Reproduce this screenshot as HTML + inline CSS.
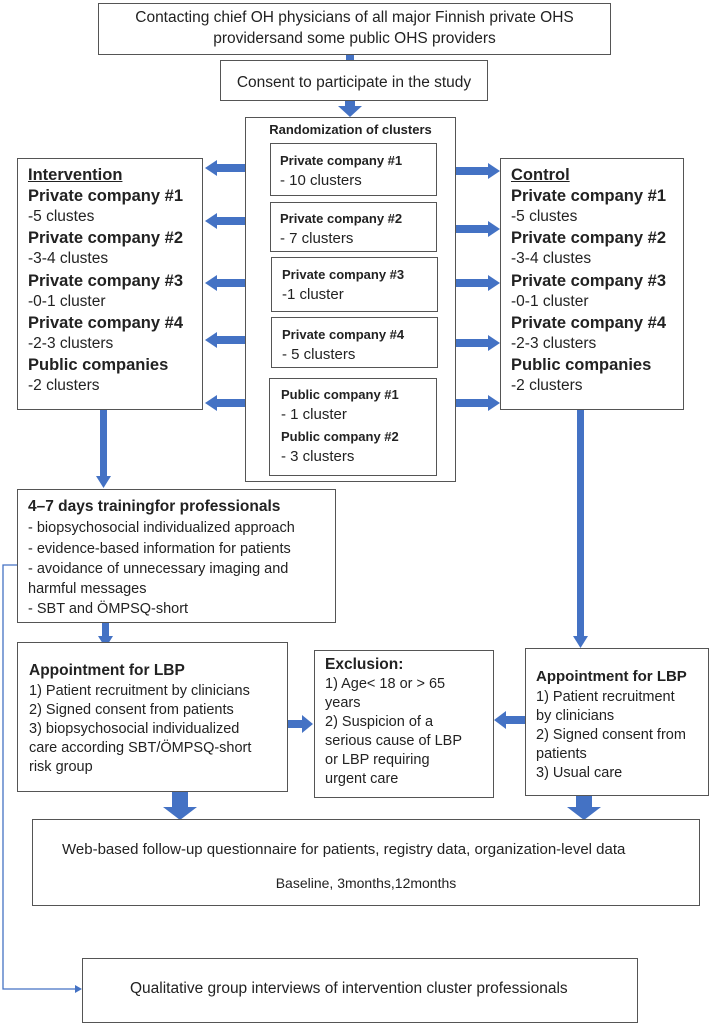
<!DOCTYPE html>
<html><head><meta charset="utf-8">
<style>
body{margin:0;background:#fff;}
#c{position:relative;width:709px;height:1023px;overflow:hidden;font-family:"Liberation Sans",Arial,sans-serif;color:#222;}
.b{position:absolute;border:1.5px solid #555;box-sizing:border-box;background:#fff;}
.t{position:absolute;white-space:nowrap;line-height:20px;}
.bd{font-weight:bold;}
svg{position:absolute;left:0;top:0;}
</style></head><body><div id="c">
<svg width="709" height="1023">
<g fill="#4472c4">
<rect x="346" y="54" width="8" height="7"/>
<polygon points="345,100 355,100 355,106 362,106 350,117 338,106 345,106"/>
<!-- left arrows -->
<polygon points="246,164 217,164 217,160 205,168 217,176 217,172 246,172"/>
<polygon points="246,217 217,217 217,213 205,221 217,229 217,225 246,225"/>
<polygon points="246,279 217,279 217,275 205,283 217,291 217,287 246,287"/>
<polygon points="246,336 217,336 217,332 205,340 217,348 217,344 246,344"/>
<polygon points="246,399 217,399 217,395 205,403 217,411 217,407 246,407"/>
<!-- right arrows -->
<polygon points="456,167 488,167 488,163 500,171 488,179 488,175 456,175"/>
<polygon points="456,225 488,225 488,221 500,229 488,237 488,233 456,233"/>
<polygon points="456,279 488,279 488,275 500,283 488,291 488,287 456,287"/>
<polygon points="456,339 488,339 488,335 500,343 488,351 488,347 456,347"/>
<polygon points="456,399 488,399 488,395 500,403 488,411 488,407 456,407"/>
<!-- vertical -->
<polygon points="100,410 107,410 107,476 111,476 103.5,488 96,476 100,476"/>
<polygon points="577,410 584,410 584,636 588,636 580.5,648 573,636 577,636"/>
<polygon points="102,623 109,623 109,636 113,636 105.5,648 98,636 102,636"/>
<!-- to exclusion -->
<polygon points="288,720 302,720 302,715 313,724 302,733 302,728 288,728"/>
<polygon points="525,716 506,716 506,711 494,720 506,729 506,724 525,724"/>
<!-- to web -->
<polygon points="172,791 188,791 188,807 197,807 180,820 163,807 172,807"/>
<polygon points="576,796 592,796 592,807 601,807 584,820 567,807 576,807"/>
</g>
<polyline points="17,565 3,565 3,989 78,989" fill="none" stroke="#4472c4" stroke-width="1.3"/>
<polygon points="82,989 75,985 75,993" fill="#4472c4"/>
</svg>

<div class="b" style="left:98px;top:3px;width:513px;height:52px"></div>
<div class="t" style="left:98px;width:513px;text-align:center;top:8px;font-size:15.5px">Contacting chief OH physicians of all major Finnish private OHS</div>
<div class="t" style="left:98px;width:513px;text-align:center;top:29px;font-size:15.5px">providersand some public OHS providers</div>

<div class="b" style="left:220px;top:60px;width:268px;height:41px"></div>
<div class="t" style="left:220px;width:268px;text-align:center;top:73px;font-size:15.5px">Consent to participate in the study</div>

<div class="b" style="left:245px;top:117px;width:211px;height:365px"></div>
<div class="t bd" style="left:245px;width:211px;text-align:center;top:120px;font-size:13px">Randomization of clusters</div>

<div class="b" style="left:270px;top:143px;width:167px;height:53px"></div>
<div class="t bd" style="left:280px;top:151px;font-size:13px">Private company #1</div>
<div class="t" style="left:280px;top:171px;font-size:15px">- 10 clusters</div>
<div class="b" style="left:270px;top:202px;width:167px;height:50px"></div>
<div class="t bd" style="left:280px;top:209px;font-size:13px">Private company #2</div>
<div class="t" style="left:280px;top:229px;font-size:15px">- 7 clusters</div>
<div class="b" style="left:271px;top:257px;width:167px;height:55px"></div>
<div class="t bd" style="left:282px;top:265px;font-size:13px">Private company #3</div>
<div class="t" style="left:282px;top:285px;font-size:15px">-1 cluster</div>
<div class="b" style="left:271px;top:317px;width:167px;height:51px"></div>
<div class="t bd" style="left:282px;top:325px;font-size:13px">Private company #4</div>
<div class="t" style="left:282px;top:345px;font-size:15px">- 5 clusters</div>
<div class="b" style="left:269px;top:378px;width:168px;height:98px"></div>
<div class="t bd" style="left:281px;top:385px;font-size:13px">Public company #1</div>
<div class="t" style="left:281px;top:405px;font-size:15px">- 1 cluster</div>
<div class="t bd" style="left:281px;top:427px;font-size:13px">Public company #2</div>
<div class="t" style="left:281px;top:447px;font-size:15px">- 3 clusters</div>

<div class="b" style="left:17px;top:158px;width:186px;height:252px"></div>
<div class="t bd" style="left:28px;top:165px;font-size:16.5px;text-decoration:underline">Intervention</div>
<div class="t bd" style="left:28px;top:186px;font-size:16.5px">Private company #1</div>
<div class="t" style="left:28px;top:207px;font-size:15.5px">-5 clustes</div>
<div class="t bd" style="left:28px;top:228px;font-size:16.5px">Private company #2</div>
<div class="t" style="left:28px;top:249px;font-size:15.5px">-3-4 clustes</div>
<div class="t bd" style="left:28px;top:271px;font-size:16.5px">Private company #3</div>
<div class="t" style="left:28px;top:292px;font-size:15.5px">-0-1 cluster</div>
<div class="t bd" style="left:28px;top:313px;font-size:16.5px">Private company #4</div>
<div class="t" style="left:28px;top:334px;font-size:15.5px">-2-3 clusters</div>
<div class="t bd" style="left:28px;top:355px;font-size:16.5px">Public companies</div>
<div class="t" style="left:28px;top:376px;font-size:15.5px">-2 clusters</div>

<div class="b" style="left:500px;top:158px;width:184px;height:252px"></div>
<div class="t bd" style="left:511px;top:165px;font-size:16.5px;text-decoration:underline">Control</div>
<div class="t bd" style="left:511px;top:186px;font-size:16.5px">Private company #1</div>
<div class="t" style="left:511px;top:207px;font-size:15.5px">-5 clustes</div>
<div class="t bd" style="left:511px;top:228px;font-size:16.5px">Private company #2</div>
<div class="t" style="left:511px;top:249px;font-size:15.5px">-3-4 clustes</div>
<div class="t bd" style="left:511px;top:271px;font-size:16.5px">Private company #3</div>
<div class="t" style="left:511px;top:292px;font-size:15.5px">-0-1 cluster</div>
<div class="t bd" style="left:511px;top:313px;font-size:16.5px">Private company #4</div>
<div class="t" style="left:511px;top:334px;font-size:15.5px">-2-3 clusters</div>
<div class="t bd" style="left:511px;top:355px;font-size:16.5px">Public companies</div>
<div class="t" style="left:511px;top:376px;font-size:15.5px">-2 clusters</div>

<div class="b" style="left:17px;top:489px;width:319px;height:134px"></div>
<div class="t bd" style="left:28px;top:497px;font-size:15.5px">4–7 days trainingfor professionals</div>
<div class="t" style="left:28px;top:518px;font-size:14.5px">- biopsychosocial individualized approach</div>
<div class="t" style="left:28px;top:539px;font-size:14.5px">- evidence-based information for patients</div>
<div class="t" style="left:28px;top:559px;font-size:14.5px">- avoidance of unnecessary imaging and</div>
<div class="t" style="left:28px;top:579px;font-size:14.5px">harmful messages</div>
<div class="t" style="left:28px;top:599px;font-size:14.5px">- SBT and ÖMPSQ-short</div>

<div class="b" style="left:17px;top:642px;width:271px;height:150px"></div>
<div class="t bd" style="left:29px;top:661px;font-size:15.5px">Appointment for LBP</div>
<div class="t" style="left:29px;top:681px;font-size:14.5px">1) Patient recruitment by clinicians</div>
<div class="t" style="left:29px;top:700px;font-size:14.5px">2) Signed consent from patients</div>
<div class="t" style="left:29px;top:719px;font-size:14.5px">3) biopsychosocial individualized</div>
<div class="t" style="left:29px;top:738px;font-size:14.5px">care according SBT/ÖMPSQ-short</div>
<div class="t" style="left:29px;top:757px;font-size:14.5px">risk group</div>

<div class="b" style="left:314px;top:650px;width:180px;height:148px"></div>
<div class="t bd" style="left:325px;top:655px;font-size:15.5px">Exclusion:</div>
<div class="t" style="left:325px;top:674px;font-size:14.5px">1) Age&lt; 18 or &gt; 65</div>
<div class="t" style="left:325px;top:693px;font-size:14.5px">years</div>
<div class="t" style="left:325px;top:712px;font-size:14.5px">2) Suspicion of a</div>
<div class="t" style="left:325px;top:731px;font-size:14.5px">serious cause of LBP</div>
<div class="t" style="left:325px;top:750px;font-size:14.5px">or LBP requiring</div>
<div class="t" style="left:325px;top:769px;font-size:14.5px">urgent care</div>

<div class="b" style="left:525px;top:648px;width:184px;height:148px"></div>
<div class="t bd" style="left:536px;top:667px;font-size:15px">Appointment for LBP</div>
<div class="t" style="left:536px;top:687px;font-size:14.5px">1) Patient recruitment</div>
<div class="t" style="left:536px;top:706px;font-size:14.5px">by clinicians</div>
<div class="t" style="left:536px;top:725px;font-size:14.5px">2) Signed consent from</div>
<div class="t" style="left:536px;top:744px;font-size:14.5px">patients</div>
<div class="t" style="left:536px;top:763px;font-size:14.5px">3) Usual care</div>

<div class="b" style="left:32px;top:819px;width:668px;height:87px"></div>
<div class="t" style="left:62px;top:840px;font-size:15px">Web-based follow-up questionnaire for patients, registry data, organization-level data</div>
<div class="t" style="left:32px;width:668px;text-align:center;top:873px;font-size:14px">Baseline, 3months,12months</div>

<div class="b" style="left:82px;top:958px;width:556px;height:65px"></div>
<div class="t" style="left:130px;top:979px;font-size:15.5px">Qualitative group interviews of intervention cluster professionals</div>
</div></body></html>
